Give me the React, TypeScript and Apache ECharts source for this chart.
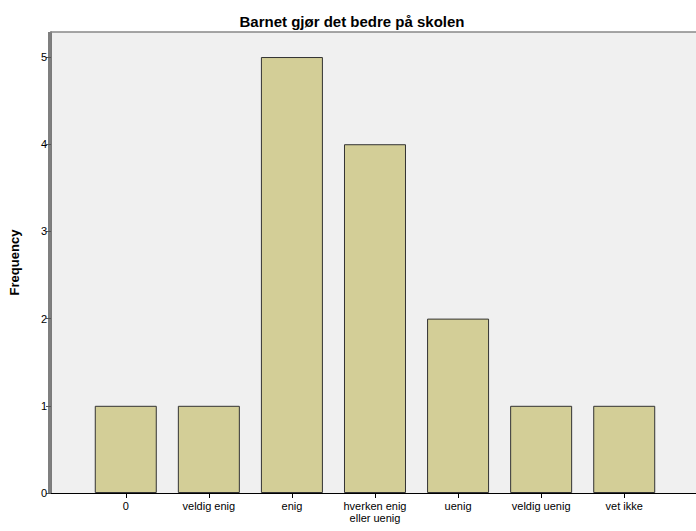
import React, { useEffect, useRef } from "react";
import * as echarts from "echarts";

const title = "Barnet gjør det bedre på skolen";
const categories = ["0", "veldig enig", "enig", "hverken enig\neller uenig", "uenig", "veldig uenig", "vet ikke"];
const frequencies = [1, 1, 5, 4, 2, 1, 1];
const yTicks = [0, 1, 2, 3, 4, 5];

export default function App() {
  const ref = useRef<HTMLDivElement>(null);
  useEffect(() => {
    if (!ref.current) return;
    const chart = echarts.init(ref.current, undefined, { renderer: "svg" });
    const font = "'Liberation Sans', Arial, sans-serif";
    const positions = categories.map((_, i) => i);
    const xMin = -0.9;
    const xMax = 6.864;
    chart.setOption({
      animation: false,
      title: {
        text: title,
        left: 347,
        textAlign: "center",
        top: 9,
        textStyle: { fontFamily: font, fontSize: 15, fontWeight: "bold", color: "#000" },
      },
      grid: {
        left: 49,
        right: 0,
        top: 32,
        bottom: 38,
        show: true,
        backgroundColor: "#f0f0f0",
        borderWidth: 0,
      },
      graphic: [
        {
          type: "line",
          z: 100,
          shape: { x1: 49, y1: 32, x2: 49, y2: 493 },
          style: { stroke: "#555", lineWidth: 1.5 },
        },
      ],
      xAxis: [
        {
          type: "value",
          min: xMin,
          max: xMax,
          splitLine: { show: false },
          axisLine: { show: true, onZero: false, lineStyle: { color: "#000", width: 1 } },
          axisTick: { show: true, length: 5, customValues: positions, lineStyle: { color: "#000" } },
          axisLabel: {
            customValues: positions,
            formatter: (v: number) => categories[Math.round(v)] ?? "",
            fontFamily: font,
            fontSize: 11,
            color: "#000",
            lineHeight: 12,
            margin: 7,
          },
        },
        {
          type: "value",
          position: "top",
          min: xMin,
          max: xMax,
          splitLine: { show: false },
          axisLine: { show: true, onZero: false, lineStyle: { color: "#888", width: 1.5 } },
          axisTick: { show: false },
          axisLabel: { show: false },
        },
      ],
      yAxis: {
        type: "value",
        min: 0,
        max: 5.287,
        interval: 1,
        name: "Frequency",
        nameLocation: "middle",
        nameGap: 30,
        nameTextStyle: { fontFamily: font, fontSize: 13, fontWeight: "bold", color: "#000" },
        splitLine: { show: false },
        axisLine: { show: true, onZero: false, lineStyle: { color: "#555", width: 1.5 } },
        axisTick: { show: true, length: 5, lineStyle: { color: "#555" } },
        axisLabel: {
          showMaxLabel: false,
          formatter: (v: number) => (yTicks.includes(v) ? String(v) : ""),
          fontFamily: font,
          fontSize: 11,
          color: "#000",
          margin: 4,
        },
      },
      series: [
        {
          type: "bar",
          xAxisIndex: 0,
          barWidth: 62,
          data: frequencies.map((f, i) => [i, f]),
          itemStyle: { color: "#d3ce97", borderColor: "#333", borderWidth: 1 },
        },
      ],
    });
    return () => chart.dispose();
  }, []);
  return <div ref={ref} style={{ width: 696, height: 531, position: "absolute", left: 0, top: 0 }} />;
}
